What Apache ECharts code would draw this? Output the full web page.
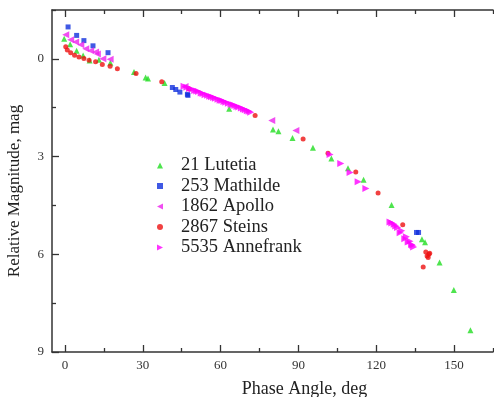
<!DOCTYPE html>
<html><head><meta charset="utf-8">
<script src="https://cdn.jsdelivr.net/npm/echarts@6/dist/echarts.min.js"></script>
<style>html,body{margin:0;padding:0;background:#fff}#c{width:494px;height:397px}</style>
</head><body><div id="c"></div>
<script>
const seriesNames = ['21 Lutetia','253 Mathilde','1862 Apollo','2867 Steins','5535 Annefrank'];
const xTickLabels = [0,30,60,90,120,150];
const yTickLabels = [0,3,6,9];

const lutetia = [[-0.3,-0.62],[2,-0.45],[4.5,-0.25],[7,-0.1],[9.5,0.05],[13.1,0.03],[17.5,0.12],[26.6,0.4],[31.1,0.57],[32,0.6],[38.4,0.74],[63.3,1.53],[80.2,2.17],[82.3,2.22],[87.7,2.43],[95.6,2.73],[102.7,3.06],[109.1,3.36],[115.1,3.71],[125.9,4.49],[137.6,5.54],[138.8,5.63],[144.4,6.25],[149.9,7.10],[156.3,8.33]];
const mathilde = [[1.2,-0.98],[4.5,-0.72],[7.3,-0.56],[10.8,-0.4],[16.6,-0.19],[41.4,0.88],[42.7,0.94],[44.3,1.02],[47.2,1.09],[47.4,1.12],[135.5,5.33],[136.3,5.33]];
const apollo = [[0.3,-0.74],[2.2,-0.59],[4.1,-0.52],[6.1,-0.43],[8,-0.31],[9.9,-0.25],[11.8,-0.21],[12.5,-0.15],[14.6,0.0],[17.4,0.01],[46.3,0.85],[79.7,1.89],[89,2.2]];
const steins = [[0.3,-0.37],[0.9,-0.27],[2.2,-0.19],[3.7,-0.11],[5.4,-0.06],[7.3,-0.01],[9.3,0.04],[11.8,0.09],[14.4,0.17],[17.4,0.23],[20.2,0.30],[27.4,0.45],[37.3,0.7],[47.8,0.92],[73.3,1.74],[91.8,2.46],[101.4,2.9],[112.1,3.47],[120.7,4.12],[130.2,5.09],[139.1,5.93],[139.6,6.05],[140.3,6.0],[140.0,6.1],[140.6,5.97],[138.1,6.39]];
const annefrank = [[45.9,0.84],[47,0.87],[48,0.91],[49,0.93],[50,0.97],[50.8,0.99],[51.5,1.0],[52.5,1.05],[53.2,1.06],[54,1.1],[55,1.12],[55.8,1.15],[56.5,1.16],[57.3,1.19],[58,1.21],[59,1.24],[59.8,1.27],[60.5,1.28],[61.3,1.31],[62,1.33],[63,1.36],[64,1.39],[64.8,1.41],[65.5,1.43],[66.3,1.46],[67,1.48],[68,1.51],[68.8,1.54],[69.5,1.56],[70.3,1.59],[71,1.61],[71.6,1.64],[102.2,2.94],[106.3,3.21],[109.9,3.49],[113,3.77],[116,3.98],[125.3,5.01],[126,5.04],[126.9,5.08],[127.5,5.13],[128.2,5.18],[129.2,5.34],[129.8,5.28],[131,5.52],[131.6,5.46],[132.3,5.62],[133,5.6],[133.6,5.7],[134.4,5.78],[134,5.72]];

const font = 'Liberation Serif';
const axisCol = '#333';
const xMinor = [15,45,75,105,135,165];
const yMinor = [-1.5,1.5,4.5,7.5];

const chart = echarts.init(document.getElementById('c'));
function xAxisDef(pos, showLabel) {
  return {
    gridIndex:0, type:'value', position:pos, min:-5, max:165,
    axisLine:{show:true, onZero:false, lineStyle:{color:axisCol, width:1.5}},
    axisTick:{show:true, inside:true, length:7, customValues:xTickLabels, lineStyle:{color:axisCol, width:1.3}},
    axisLabel:{show:showLabel, customValues:xTickLabels, color:'#333', fontFamily:font, fontSize:13, margin:7},
    splitLine:{show:false},
    name: showLabel ? 'Phase Angle, deg' : '',
    nameLocation:'middle', nameGap:28,
    nameTextStyle:{fontFamily:font, fontSize:18, color:'#222', padding:[0,0,0,64]}
  };
}
function xMinorDef(pos) {
  return {
    gridIndex:1, type:'value', position:pos, min:-5, max:165,
    axisLine:{show:true, onZero:false, lineStyle:{color:'rgba(0,0,0,0)'}}, splitLine:{show:false},
    axisTick:{show:true, inside:true, length:4, customValues:xMinor, lineStyle:{color:axisCol, width:1.3}},
    axisLabel:{show:false}
  };
}
const gridBox = {left:52, right:1, top:10, bottom:45, outerBoundsMode:'none', containLabel:false};
chart.setOption({
  animation:false,
  grid:[Object.assign({}, gridBox), Object.assign({}, gridBox)],
  legend:{
    orient:'vertical', left:152, top:151, itemGap:1.5,
    itemWidth:6, itemHeight:6,
    textStyle:{fontFamily:font, fontSize:18.5, color:'#222', padding:[0,0,0,13]},
    data:[
      {name:seriesNames[0], icon:'triangle'},
      {name:seriesNames[1], icon:'rect'},
      {name:seriesNames[2], icon:'path://M0,5L10,0L10,10Z'},
      {name:seriesNames[3], icon:'circle'},
      {name:seriesNames[4], icon:'path://M10,5L0,0L0,10Z'}
    ]
  },
  xAxis:[xAxisDef('bottom', true), xAxisDef('top', false), xMinorDef('bottom'), xMinorDef('top')],
  yAxis:[{
    gridIndex:0, type:'value', min:-1.5, max:9, inverse:true, position:'left',
    axisLine:{show:true, onZero:false, lineStyle:{color:axisCol, width:1.5}},
    axisTick:{show:true, inside:true, length:7, customValues:yTickLabels, lineStyle:{color:axisCol, width:1.3}},
    axisLabel:{customValues:yTickLabels, color:'#333', fontFamily:font, fontSize:13, margin:8},
    splitLine:{show:false},
    name:'Relative Magnitude, mag', nameLocation:'middle', nameGap:29, nameRotate:90,
    nameTextStyle:{fontFamily:font, fontSize:17, color:'#222', padding:[0,20,0,0]}
  },{
    gridIndex:1, type:'value', min:-1.5, max:9, inverse:true, position:'left',
    axisLine:{show:true, onZero:false, lineStyle:{color:'rgba(0,0,0,0)'}}, splitLine:{show:false}, axisLabel:{show:false},
    axisTick:{show:true, inside:true, length:4, customValues:yMinor, lineStyle:{color:axisCol, width:1.3}}
  }],
  series:[
    {name:seriesNames[0], type:'scatter', data:lutetia, symbol:'triangle', symbolSize:6, itemStyle:{color:'#22dd22'}},
    {name:seriesNames[1], type:'scatter', data:mathilde, symbol:'rect', symbolSize:5, itemStyle:{color:'#1030dd'}},
    {name:seriesNames[2], type:'scatter', data:apollo, symbol:'triangle', symbolRotate:90, symbolSize:7, itemStyle:{color:'#ee22ee'}},
    {name:seriesNames[3], type:'scatter', data:steins, symbol:'circle', symbolSize:5, itemStyle:{color:'#ee1111'}},
    {name:seriesNames[4], type:'scatter', data:annefrank, symbol:'triangle', symbolRotate:-90, symbolSize:7, itemStyle:{color:'#ff00ff'}}
  ]
});
</script></body></html>
